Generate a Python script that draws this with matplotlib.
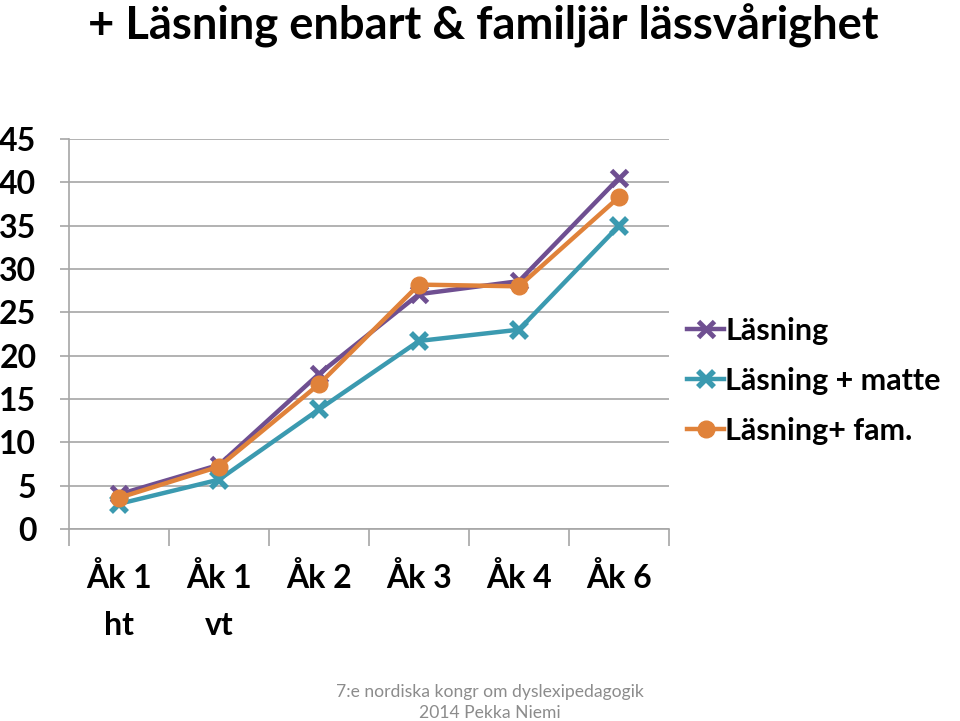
import numpy as np
import matplotlib
matplotlib.use("Agg")
import matplotlib.pyplot as plt
from matplotlib.ticker import FixedLocator

plt.rcParams['font.family'] = ['Lato', 'DejaVu Sans']

# data
categories = ['Åk 1\nht', 'Åk 1\nvt', 'Åk 2', 'Åk 3', 'Åk 4', 'Åk 6']
lasning = [4.0, 7.4, 17.9, 27.1, 28.6, 40.5]
lasning_matte = [2.9, 5.7, 13.8, 21.7, 23.0, 35.0]
lasning_fam = [3.6, 7.2, 16.7, 28.2, 28.0, 38.3]

fig = plt.figure(figsize=(9.6, 7.21), dpi=100)
ax = fig.add_axes([0.0719, 0.2663, 0.625, 0.5409])

x = np.arange(len(categories))
ax.plot(x, lasning, '-', color='#6f4f91', lw=3.2, marker='x', ms=12, mew=3.5,
        label='Läsning', zorder=3)
ax.plot(x, lasning_matte, '-', color='#3b9ab0', lw=3.2, marker='x', ms=11, mew=4,
        label='Läsning + matte', zorder=3)
ax.plot(x, lasning_fam, '-', color='#e0823a', lw=3.2, marker='o', ms=12,
        label='Läsning+ fam.', zorder=4)

ax.set_xlim(-0.5, len(categories) - 0.5)
ax.set_ylim(0, 45)
ax.set_yticks(np.arange(0, 46, 5))
ax.yaxis.grid(True, color='#a6a6a6', lw=1.2)
ax.set_axisbelow(True)

ax.set_xticks(x)
ax.set_xticklabels(categories, fontsize=23, fontweight='bold', linespacing=1.75)
ax.xaxis.set_minor_locator(FixedLocator(np.arange(-0.5, len(categories), 1)))
ax.tick_params(axis='x', which='major', length=0, pad=24)
ax.tick_params(axis='x', which='minor', length=12, color='#a6a6a6', width=1.2)
ax.tick_params(axis='y', labelsize=23, length=6.5, color='#a6a6a6', width=1.2, pad=17)
for lab in ax.get_yticklabels():
    lab.set_fontweight('bold')

for s in ['top', 'right']:
    ax.spines[s].set_visible(False)
ax.spines['left'].set_color('#a6a6a6')
ax.spines['bottom'].set_color('#a6a6a6')
ax.spines['left'].set_linewidth(1.2)
ax.spines['bottom'].set_linewidth(1.2)

leg = ax.legend(loc='center left', bbox_to_anchor=(1.01, 0.38), frameon=False,
                prop={'size': 22, 'weight': 'bold'}, handlelength=1.2,
                handletextpad=0.05, labelspacing=0.72, borderaxespad=0)

fig.text(0.092, 0.995, '+ Läsning enbart & familjär lässvårighet', fontsize=32.7,
         fontweight='bold', ha='left', va='top')
fig.text(0.51, 0.04, '7:e nordiska kongr om dyslexipedagogik', fontsize=12.6,
         color='#8c8c8c', ha='center', va='center')
fig.text(0.51, 0.011, '2014 Pekka Niemi', fontsize=12.6,
         color='#8c8c8c', ha='center', va='center')

fig.savefig('out.png', dpi=100)
